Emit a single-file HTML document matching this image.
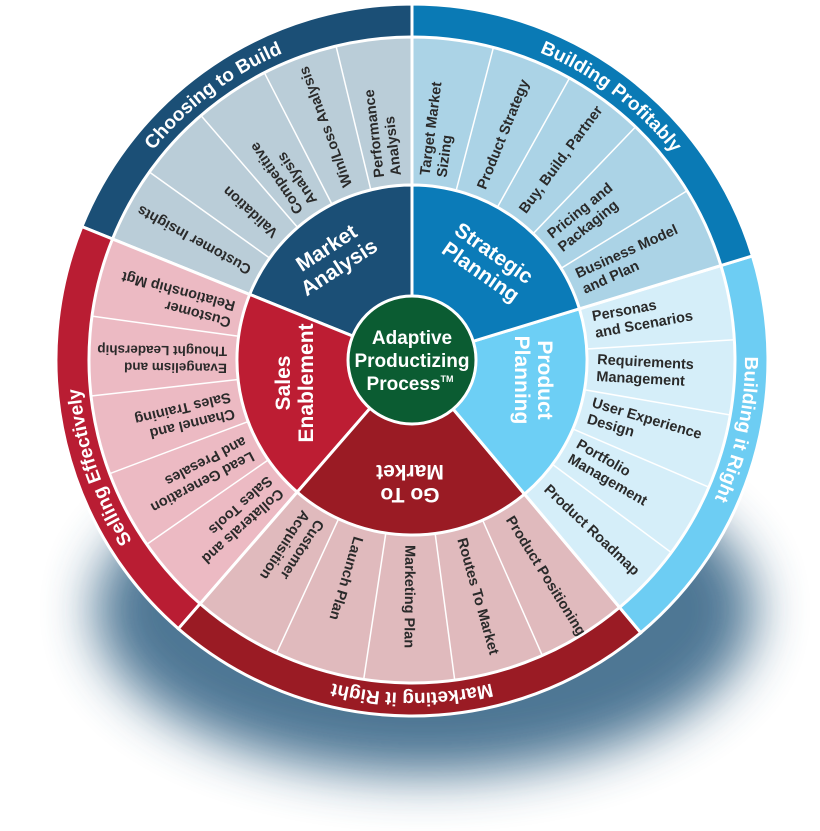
<!DOCTYPE html>
<html><head><meta charset="utf-8"><style>
html,body{margin:0;padding:0;background:#fff;}
svg{display:block;}
.m{font-family:"Liberation Sans",sans-serif;font-weight:bold;font-size:14.5px;fill:#2a2a2a;}
.i{font-family:"Liberation Sans",sans-serif;font-weight:bold;font-size:21px;fill:#fff;text-anchor:middle;}
.o{font-family:"Liberation Sans",sans-serif;font-weight:bold;font-size:19px;fill:#fff;}
</style></head><body>
<svg width="820" height="831" viewBox="0 0 820 831" xmlns="http://www.w3.org/2000/svg">
<defs>
<filter id="bl" x="-50%" y="-50%" width="200%" height="200%"><feGaussianBlur stdDeviation="26"/></filter>
<path id="ring" d="M745 360 A333 333 0 0 1 79 360 A333 333 0 0 1 745 360"/>
</defs>
<ellipse cx="425" cy="610" rx="330" ry="165" fill="#44708f" opacity="0.95" filter="url(#bl)"/>
<g stroke="#fff" stroke-width="3">
<path d="M412 360 L412 4 A356 356 0 0 0 81.9 226.6Z" fill="#1b4f76"/>
<path d="M412 360 L81.9 226.6 A356 356 0 0 0 178.4 628.7Z" fill="#b91d33"/>
<path d="M412 360 L178.4 628.7 A356 356 0 0 0 640.8 632.7Z" fill="#9a1b24"/>
<path d="M412 360 L640.8 632.7 A356 356 0 0 0 752.4 255.9Z" fill="#6dcdf3"/>
<path d="M412 360 L752.4 255.9 A356 356 0 0 0 412 4Z" fill="#0a7ab5"/>
<path d="M412 360 L412 37 A323 323 0 0 0 112.5 239Z" fill="#bacdd8"/>
<path d="M412 360 L112.5 239 A323 323 0 0 0 200.1 603.8Z" fill="#ecbac3"/>
<path d="M412 360 L200.1 603.8 A323 323 0 0 0 619.6 607.4Z" fill="#e0babd"/>
<path d="M412 360 L619.6 607.4 A323 323 0 0 0 720.9 265.6Z" fill="#d5eef9"/>
<path d="M412 360 L720.9 265.6 A323 323 0 0 0 412 37Z" fill="#abd3e6"/>
</g>
<g stroke="#fff" stroke-width="1.5">
<line x1="587" y1="360" x2="735" y2="360" transform="rotate(-103.6 412 360)"/>
<line x1="587" y1="360" x2="735" y2="360" transform="rotate(-117.2 412 360)"/>
<line x1="587" y1="360" x2="735" y2="360" transform="rotate(-130.8 412 360)"/>
<line x1="587" y1="360" x2="735" y2="360" transform="rotate(-144.4 412 360)"/>
<line x1="587" y1="360" x2="735" y2="360" transform="rotate(-31.6 412 360)"/>
<line x1="587" y1="360" x2="735" y2="360" transform="rotate(-46.2 412 360)"/>
<line x1="587" y1="360" x2="735" y2="360" transform="rotate(-60.8 412 360)"/>
<line x1="587" y1="360" x2="735" y2="360" transform="rotate(-75.4 412 360)"/>
<line x1="587" y1="360" x2="735" y2="360" transform="rotate(-323.4 412 360)"/>
<line x1="587" y1="360" x2="735" y2="360" transform="rotate(-336.8 412 360)"/>
<line x1="587" y1="360" x2="735" y2="360" transform="rotate(-350.2 412 360)"/>
<line x1="587" y1="360" x2="735" y2="360" transform="rotate(-3.6 412 360)"/>
<line x1="587" y1="360" x2="735" y2="360" transform="rotate(-245.2 412 360)"/>
<line x1="587" y1="360" x2="735" y2="360" transform="rotate(-261.4 412 360)"/>
<line x1="587" y1="360" x2="735" y2="360" transform="rotate(-277.6 412 360)"/>
<line x1="587" y1="360" x2="735" y2="360" transform="rotate(-293.8 412 360)"/>
<line x1="587" y1="360" x2="735" y2="360" transform="rotate(-172.2 412 360)"/>
<line x1="587" y1="360" x2="735" y2="360" transform="rotate(-186.4 412 360)"/>
<line x1="587" y1="360" x2="735" y2="360" transform="rotate(-200.6 412 360)"/>
<line x1="587" y1="360" x2="735" y2="360" transform="rotate(-214.8 412 360)"/>
</g>
<g stroke="#fff" stroke-width="3">
<path d="M412 360 L412 185 A175 175 0 0 0 249.7 294.4Z" fill="#1b4f76"/>
<path d="M412 360 L249.7 294.4 A175 175 0 0 0 297.2 492.1Z" fill="#bd1d33"/>
<path d="M412 360 L297.2 492.1 A175 175 0 0 0 524.5 494.1Z" fill="#9a1b24"/>
<path d="M412 360 L524.5 494.1 A175 175 0 0 0 579.4 308.8Z" fill="#6dcff5"/>
<path d="M412 360 L579.4 308.8 A175 175 0 0 0 412 185Z" fill="#0b7bb8"/>
<circle cx="412" cy="360" r="64" fill="#0b5c32"/>
</g>
<g class="m">
<text transform="rotate(-96.8 412 360)"><tspan x="597" y="354">Performance</tspan><tspan x="597" y="371">Analysis</tspan></text>
<text transform="rotate(-110.4 412 360)" x="597" y="365">Win/Loss Analysis</text>
<text transform="rotate(-124 412 360)"><tspan x="597" y="354">Competitive</tspan><tspan x="597" y="371">Analysis</tspan></text>
<text transform="rotate(-137.6 412 360)" x="597" y="365">Validation</text>
<text transform="rotate(-151.2 412 360)" x="597" y="365">Customer Insights</text>
<text transform="rotate(-82.7 412 360)"><tspan x="597" y="354">Target Market</tspan><tspan x="597" y="371">Sizing</tspan></text>
<text transform="rotate(-68.1 412 360)" x="597" y="365">Product Strategy</text>
<text transform="rotate(-53.5 412 360)" x="597" y="365">Buy, Build, Partner</text>
<text transform="rotate(-38.9 412 360)"><tspan x="597" y="354">Pricing and</tspan><tspan x="597" y="371">Packaging</tspan></text>
<text transform="rotate(-24.3 412 360)"><tspan x="597" y="354">Business Model</tspan><tspan x="597" y="371">and Plan</tspan></text>
<text transform="rotate(-10.3 412 360)"><tspan x="597" y="354">Personas</tspan><tspan x="597" y="371">and Scenarios</tspan></text>
<text transform="rotate(3.1 412 360)"><tspan x="597" y="354">Requirements</tspan><tspan x="597" y="371">Management</tspan></text>
<text transform="rotate(16.5 412 360)"><tspan x="597" y="354">User Experience</tspan><tspan x="597" y="371">Design</tspan></text>
<text transform="rotate(29.9 412 360)"><tspan x="597" y="354">Portfolio</tspan><tspan x="597" y="371">Management</tspan></text>
<text transform="rotate(43.3 412 360)" x="597" y="365">Product Roadmap</text>
<text transform="rotate(58.1 412 360)" x="597" y="365">Product Positioning</text>
<text transform="rotate(74.3 412 360)" x="597" y="365">Routes To Market</text>
<text transform="rotate(90.5 412 360)" x="597" y="365">Marketing Plan</text>
<text transform="rotate(106.7 412 360)" x="597" y="365">Launch Plan</text>
<text transform="rotate(122.9 412 360)"><tspan x="597" y="354">Customer</tspan><tspan x="597" y="371">Acquisition</tspan></text>
<text transform="rotate(-165.1 412 360)"><tspan x="597" y="354">Customer</tspan><tspan x="597" y="371">Relationship Mgt</tspan></text>
<text transform="rotate(-179.3 412 360)" font-size="13.5"><tspan x="597" y="354">Evangelism and</tspan><tspan x="597" y="371">Thought Leadership</tspan></text>
<text transform="rotate(-193.5 412 360)"><tspan x="597" y="354">Channel and</tspan><tspan x="597" y="371">Sales Training</tspan></text>
<text transform="rotate(-207.7 412 360)"><tspan x="597" y="354">Lead Generation</tspan><tspan x="597" y="371">and Presales</tspan></text>
<text transform="rotate(-221.9 412 360)"><tspan x="597" y="354">Collaterals and</tspan><tspan x="597" y="371">Sales Tools</tspan></text>
</g>
<text class="i" transform="rotate(-33 333 258)"><tspan x="333" y="253">Market</tspan><tspan x="333" y="276">Analysis</tspan></text>
<text class="i" transform="rotate(35 487 263)"><tspan x="487" y="258">Strategic</tspan><tspan x="487" y="281">Planning</tspan></text>
<text class="i" transform="rotate(90 533 380)"><tspan x="533" y="375">Product</tspan><tspan x="533" y="398">Planning</tspan></text>
<text class="i" transform="rotate(180 410 483)"><tspan x="410" y="478">Go To</tspan><tspan x="410" y="501">Market</tspan></text>
<text class="i" transform="rotate(-90 295 383)"><tspan x="295" y="378">Sales</tspan><tspan x="295" y="401">Enablement</tspan></text>
<g class="i" style="font-size:19px">
<text x="412" y="344">Adaptive</text>
<text x="412" y="367">Productizing</text>
<text x="410" y="390">Process<tspan font-size="9" dy="-8">TM</tspan></text>
</g>
<g class="o" text-anchor="middle">
<text><textPath href="#ring" startOffset="1354">Choosing to Build</textPath></text>
<text><textPath href="#ring" startOffset="1784">Building Profitably</textPath></text>
<text><textPath href="#ring" startOffset="70">Building it Right</textPath></text>
<text><textPath href="#ring" startOffset="523">Marketing it Right</textPath></text>
<text><textPath href="#ring" startOffset="936">Selling Effectively</textPath></text>
</g>
</svg>
</body></html>
